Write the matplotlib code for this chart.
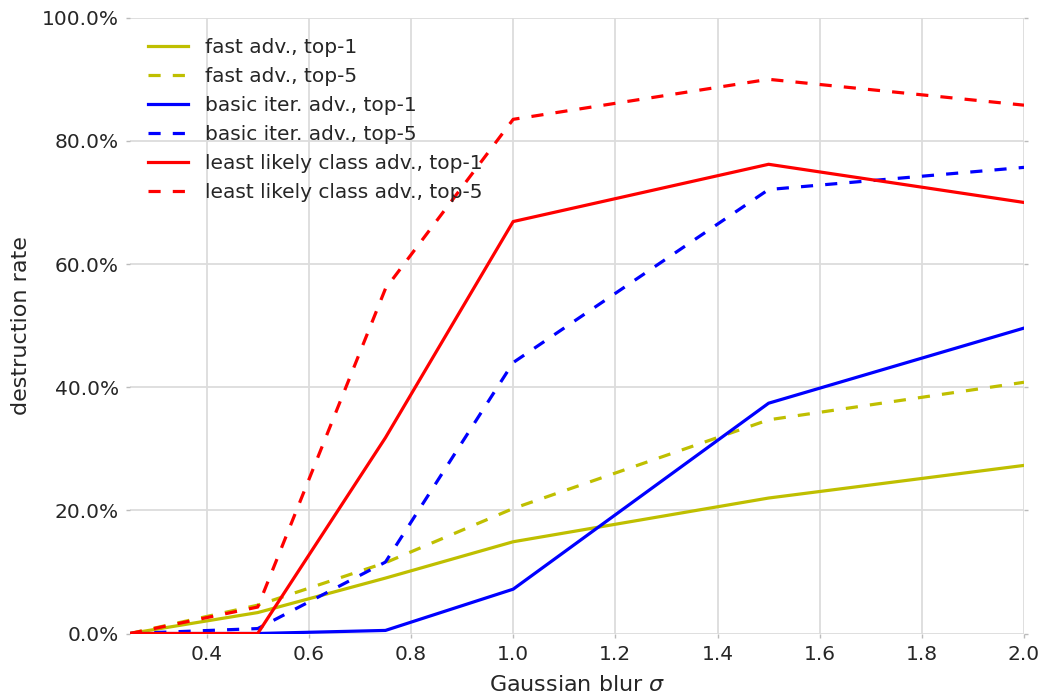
import matplotlib
matplotlib.use("Agg")
import matplotlib.pyplot as plt
from matplotlib.ticker import PercentFormatter

# ---------- dados ----------
sigma = [0.25, 0.5, 0.75, 1.0, 1.5, 2.0]

fast_top1 = [0.0, 0.034, 0.090, 0.149, 0.220, 0.273]
fast_top5 = [0.0, 0.046, 0.115, 0.203, 0.347, 0.408]
iter_top1 = [0.0, 0.0, 0.005, 0.072, 0.374, 0.496]
iter_top5 = [0.0, 0.008, 0.116, 0.440, 0.721, 0.757]
ll_top1 = [0.0, 0.0, 0.318, 0.669, 0.762, 0.700]
ll_top5 = [0.0, 0.043, 0.560, 0.835, 0.900, 0.858]

labels = ["fast adv., top-1", "fast adv., top-5",
          "basic iter. adv., top-1", "basic iter. adv., top-5",
          "least likely class adv., top-1", "least likely class adv., top-5"]
series = [fast_top1, fast_top5, iter_top1, iter_top5, ll_top1, ll_top5]
colors = ["#bfbf00", "#bfbf00", "#0000ff", "#0000ff", "#ff0000", "#ff0000"]
dashed = [False, True, False, True, False, True]

xticks = [0.4, 0.6, 0.8, 1.0, 1.2, 1.4, 1.6, 1.8, 2.0]
yticks = [0.0, 0.2, 0.4, 0.6, 0.8, 1.0]

TXT = "#262626"

fig = plt.figure(figsize=(10.46, 6.98), dpi=100)
ax = fig.add_axes([0.1243, 0.0924, 0.979 - 0.1243, 0.9746 - 0.0924])

for y, lab, c, d in zip(series, labels, colors, dashed):
    ln, = ax.plot(sigma, y, color=c, lw=2.3, label=lab)
    if d:
        ln.set_dashes([3.8, 3.8])

ax.set_xlim(0.25, 2.0)
ax.set_ylim(0.0, 1.0)
ax.set_xticks(xticks)
ax.set_yticks(yticks)
ax.yaxis.set_major_formatter(PercentFormatter(1.0, decimals=1))

ax.grid(True, color="#dcdcdc", lw=1.3)
ax.set_axisbelow(True)
for s in ax.spines.values():
    s.set_visible(False)
ax.tick_params(axis="both", labelsize=14.5, colors="#bbbbbb", labelcolor=TXT,
               length=3, width=1, pad=5, right=True)

ax.set_xlabel("Gaussian blur $\\sigma$", fontsize=16, color=TXT, labelpad=8)
ax.set_ylabel("destruction rate", fontsize=16, color=TXT, labelpad=8)

leg = ax.legend(loc="upper left", frameon=False, fontsize=14.5,
                bbox_to_anchor=(0.0, 0.997), labelspacing=0.5, handlelength=2.0)
for t in leg.get_texts():
    t.set_color(TXT)

fig.savefig("out.png", dpi=100)
